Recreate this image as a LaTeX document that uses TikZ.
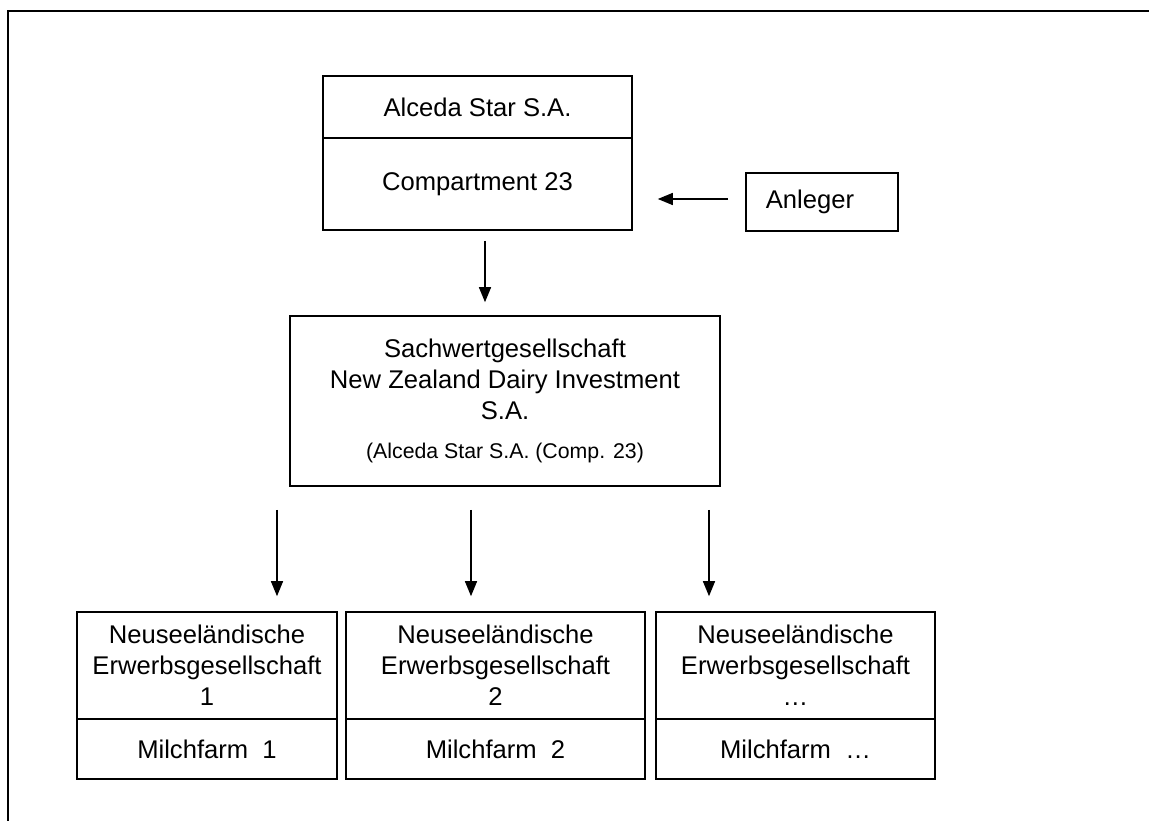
\documentclass[tikz,border=0pt]{standalone}
\usepackage{fontspec}
\setmainfont{Liberation Sans}
\usetikzlibrary{arrows.meta}

\begin{document}
\begin{tikzpicture}[x=1pt,y=-1pt,
  box/.style={draw, line width=1.6pt, inner sep=0pt, align=center,
    font=\fontsize{25.6}{31}\selectfont},
  arr/.style={line width=1.4pt, -{Triangle[length=15pt,width=12pt]}}]
\useasboundingbox (0,0) rectangle (1149,821);
\draw[line width=2.6pt] (8,821) -- (8,11) -- (1149,11);

% Alceda Star
\node[box, minimum width=309pt, minimum height=62pt] (alceda) at (477.5,107) {Alceda Star S.A.};
\node[box, minimum width=309pt, minimum height=92pt] (comp) at (477.5,184) {Compartment 23};
\node[box, minimum width=152pt, minimum height=58pt] (anleger) at (822,202) {Anleger\hspace*{24pt}};

% Sachwertgesellschaft
\node[box, minimum width=430pt, minimum height=170pt] (sachwert) at (505,401)
  {Sachwertgesellschaft\\New Zealand Dairy Investment\\S.A.\\[8pt]{\fontsize{21.3}{31}\selectfont(Alceda Star S.A. (Comp. 23)}};

% Erwerbsgesellschaften
\node[box, minimum width=260pt, minimum height=107pt] (erwerb1) at (207,665.5) {Neuseeländische\\Erwerbsgesellschaft\\1};
\node[box, minimum width=260pt, minimum height=60pt] (farm1) at (207,749) {Milchfarm~~1};
\node[box, minimum width=299pt, minimum height=107pt] (erwerb2) at (495.5,665.5) {Neuseeländische\\Erwerbsgesellschaft\\2};
\node[box, minimum width=299pt, minimum height=60pt] (farm2) at (495.5,749) {Milchfarm~~2};
\node[box, minimum width=279pt, minimum height=107pt] (erwerb3) at (795.5,665.5) {Neuseeländische\\Erwerbsgesellschaft\\…};
\node[box, minimum width=279pt, minimum height=60pt] (farm3) at (795.5,749) {Milchfarm~~…};

% Pfeile
\draw[arr, shorten <=17pt, shorten >=25pt] ([yshift=3pt]anleger.west) -- ([yshift=3pt]anleger.west -| comp.east);
\draw[arr, shorten <=10pt, shorten >=13pt] ([xshift=7.5pt]comp.south) -- ([xshift=7.5pt]comp.south |- sachwert.north);
\draw[arr, shorten <=23pt, shorten >=15pt] ([xshift=-228pt]sachwert.south) -- ([xshift=-228pt]sachwert.south |- erwerb1.north);
\draw[arr, shorten <=23pt, shorten >=15pt] ([xshift=-34pt]sachwert.south) -- ([xshift=-34pt]sachwert.south |- erwerb2.north);
\draw[arr, shorten <=23pt, shorten >=15pt] ([xshift=204pt]sachwert.south) -- ([xshift=204pt]sachwert.south |- erwerb3.north);
\end{tikzpicture}
\end{document}
